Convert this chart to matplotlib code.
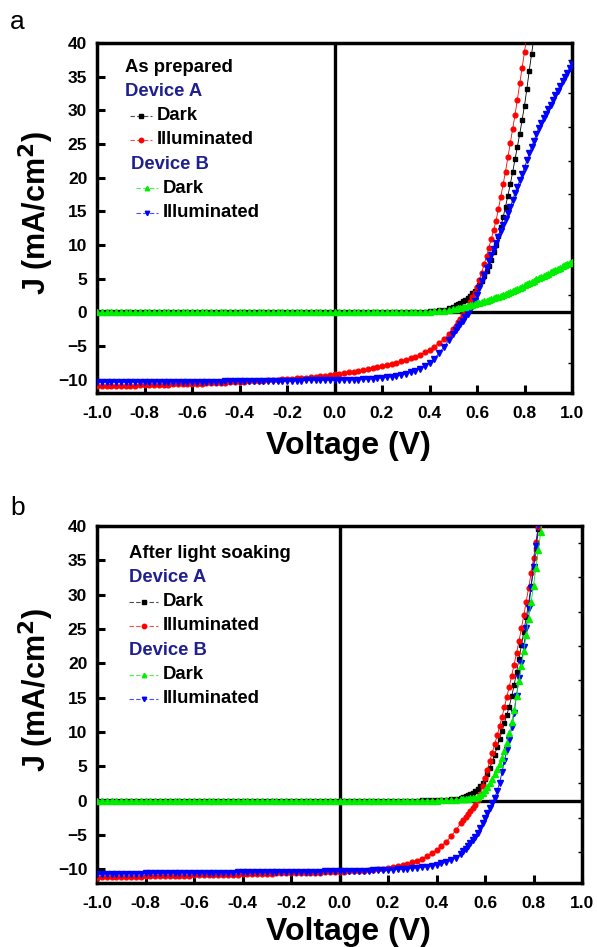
import numpy as np
import matplotlib
matplotlib.use("Agg")
import matplotlib.pyplot as plt
from matplotlib.lines import Line2D

plt.rcParams['font.family'] = ['Liberation Sans', 'DejaVu Sans']
plt.rcParams['font.weight'] = 'bold'

nan = np.nan

# voltage sweep (V): 0.02 V steps up to 0.5 V, then 0.01 V steps
volt = [-1.00, -0.98, -0.96, -0.94, -0.92, -0.90, -0.88, -0.86, -0.84, -0.82,
        -0.80, -0.78, -0.76, -0.74, -0.72, -0.70, -0.68, -0.66, -0.64, -0.62,
        -0.60, -0.58, -0.56, -0.54, -0.52, -0.50, -0.48, -0.46, -0.44, -0.42,
        -0.40, -0.38, -0.36, -0.34, -0.32, -0.30, -0.28, -0.26, -0.24, -0.22,
        -0.20, -0.18, -0.16, -0.14, -0.12, -0.10, -0.08, -0.06, -0.04, -0.02,
        0.00, 0.02, 0.04, 0.06, 0.08, 0.10, 0.12, 0.14, 0.16, 0.18,
        0.20, 0.22, 0.24, 0.26, 0.28, 0.30, 0.32, 0.34, 0.36, 0.38,
        0.40, 0.42, 0.44, 0.46, 0.48, 0.50,
        0.51, 0.52, 0.53, 0.54, 0.55, 0.56, 0.57, 0.58, 0.59, 0.60,
        0.61, 0.62, 0.63, 0.64, 0.65, 0.66, 0.67, 0.68, 0.69, 0.70,
        0.71, 0.72, 0.73, 0.74, 0.75, 0.76, 0.77, 0.78, 0.79, 0.80,
        0.81, 0.82, 0.83, 0.84, 0.85, 0.86, 0.87, 0.88, 0.89, 0.90,
        0.91, 0.92, 0.93, 0.94, 0.95, 0.96, 0.97, 0.98, 0.99, 1.00]

zeros66 = [0.0] * 66  # dark current is flat at 0 from -1.0 V to 0.30 V

# (a) as prepared, J in mA/cm2
a_dark_A = zeros66 + [
    0.02, 0.03, 0.05, 0.08, 0.12, 0.18, 0.27, 0.40, 0.60, 0.85,
    1.0, 1.15, 1.35, 1.6, 1.85, 2.1, 2.45, 2.8, 3.2, 3.6,
    4.1, 4.7, 5.4, 6.1, 6.9, 7.8, 8.9, 10.0, 11.3, 12.6,
    14.1, 15.7, 17.3, 19.0, 20.8, 22.7, 24.6, 26.5, 28.6, 30.7,
    33.2, 35.9, 38.4, 40.9, nan, nan, nan, nan, nan, nan,
    nan, nan, nan, nan, nan, nan, nan, nan, nan, nan]
a_illum_A = [
    -11.0, -11.0, -11.0, -10.98, -10.96, -10.95, -10.93, -10.91, -10.89, -10.87,
    -10.85, -10.83, -10.81, -10.79, -10.77, -10.75, -10.73, -10.71, -10.69, -10.67,
    -10.65, -10.63, -10.61, -10.58, -10.55, -10.52, -10.49, -10.46, -10.43, -10.39,
    -10.35, -10.31, -10.27, -10.23, -10.19, -10.15, -10.11, -10.07, -10.03, -9.99,
    -9.95, -9.89, -9.83, -9.77, -9.71, -9.65, -9.57, -9.49, -9.41, -9.33,
    -9.25, -9.15, -9.05, -8.95, -8.83, -8.7, -8.58, -8.46, -8.34, -8.17,
    -8.0, -7.84, -7.68, -7.5, -7.3, -7.1, -6.85, -6.6, -6.3, -5.95,
    -5.55, -5.1, -4.6, -4.0, -3.3, -2.5,
    -2.0, -1.5, -0.95, -0.4, 0.2, 0.8, 1.5, 2.2, 2.9, 3.7,
    4.8, 5.9, 7.1, 8.3, 9.6, 10.9, 12.2, 13.6, 15.3, 17.1,
    19.0, 20.9, 23.0, 25.1, 27.2, 29.3, 31.6, 34.0, 36.3, 38.7,
    41.1, nan, nan, nan, nan, nan, nan, nan, nan, nan,
    nan, nan, nan, nan, nan, nan, nan, nan, nan, nan]
a_dark_B = zeros66 + [
    0.01, 0.02, 0.03, 0.05, 0.08, 0.12, 0.17, 0.24, 0.33, 0.45,
    0.51, 0.58, 0.66, 0.75, 0.83, 0.92, 1.01, 1.10, 1.20, 1.30,
    1.40, 1.50, 1.61, 1.72, 1.83, 1.95, 2.07, 2.20, 2.32, 2.45,
    2.60, 2.75, 2.90, 3.05, 3.20, 3.35, 3.50, 3.65, 3.82, 4.00,
    4.17, 4.35, 4.52, 4.70, 4.87, 5.05, 5.22, 5.40, 5.57, 5.75,
    5.92, 6.10, 6.27, 6.45, 6.62, 6.80, 6.97, 7.15, 7.30, 7.45]
a_illum_B = [
    -10.42, -10.42, -10.41, -10.41, -10.4, -10.4, -10.4, -10.39, -10.39, -10.38,
    -10.38, -10.37, -10.37, -10.36, -10.36, -10.35, -10.35, -10.34, -10.34, -10.33,
    -10.33, -10.32, -10.32, -10.31, -10.31, -10.3, -10.3, -10.29, -10.29, -10.28,
    -10.28, -10.27, -10.26, -10.25, -10.24, -10.23, -10.22, -10.21, -10.2, -10.19,
    -10.18, -10.17, -10.16, -10.15, -10.14, -10.13, -10.12, -10.11, -10.1, -10.1,
    -10.1, -10.08, -10.06, -10.04, -10.02, -10.0, -9.97, -9.93, -9.88, -9.82,
    -9.75, -9.67, -9.58, -9.45, -9.3, -9.15, -8.95, -8.7, -8.4, -8.0,
    -7.5, -6.9, -6.1, -5.2, -4.2, -3.2,
    -2.7, -2.2, -1.75, -1.3, -0.75, -0.2, 0.35, 0.9, 1.7, 2.6,
    3.6, 4.6, 5.6, 6.6, 7.55, 8.5, 9.4, 10.3, 11.15, 12.0,
    12.9, 13.8, 14.7, 15.6, 16.65, 17.7, 18.65, 19.6, 20.55, 21.5,
    22.55, 23.6, 24.55, 25.5, 26.45, 27.4, 28.1, 28.8, 29.5, 30.2,
    30.85, 31.5, 32.2, 32.9, 33.65, 34.4, 35.0, 35.6, 36.25, 36.9]

# (b) after light soaking
b_dark_A = zeros66 + [
    0.01, 0.02, 0.03, 0.04, 0.06, 0.09, 0.13, 0.19, 0.28, 0.42,
    0.52, 0.62, 0.75, 0.90, 1.12, 1.40, 1.72, 2.10, 2.55, 3.10,
    3.90, 4.80, 5.70, 6.70, 7.80, 9.00, 10.1, 11.3, 12.5, 13.7,
    15.2, 16.8, 18.7, 20.6, 22.6, 24.6, 26.7, 28.8, 31.3, 34.0,
    36.7, 39.5, 42.3, nan, nan, nan, nan, nan, nan, nan,
    nan, nan, nan, nan, nan, nan, nan, nan, nan, nan]
b_illum_A = [
    -11.2, -11.18, -11.16, -11.14, -11.12, -11.1, -11.1, -11.1, -11.08, -11.06,
    -11.05, -11.03, -11.01, -11.0, -11.0, -11.0, -10.98, -10.96, -10.94, -10.92,
    -10.9, -10.9, -10.9, -10.88, -10.86, -10.85, -10.83, -10.81, -10.79, -10.77,
    -10.75, -10.73, -10.71, -10.69, -10.67, -10.65, -10.63, -10.61, -10.59, -10.57,
    -10.55, -10.53, -10.51, -10.5, -10.5, -10.5, -10.48, -10.46, -10.44, -10.42,
    -10.4, -10.36, -10.32, -10.28, -10.24, -10.2, -10.13, -10.06, -9.98, -9.89,
    -9.8, -9.69, -9.57, -9.42, -9.22, -9.0, -8.75, -8.45, -8.1, -7.7,
    -7.2, -6.6, -6.0, -5.2, -4.3, -3.3,
    -2.85, -2.4, -1.95, -1.5, -1.05, -0.6, 0.1, 1.0, 2.1, 3.3,
    4.5, 5.8, 7.0, 8.2, 9.5, 10.8, 12.2, 13.6, 15.1, 16.6,
    18.2, 19.8, 21.5, 23.2, 25.1, 27.0, 29.0, 31.0, 33.1, 35.3,
    37.6, 39.9, 42.2, nan, nan, nan, nan, nan, nan, nan,
    nan, nan, nan, nan, nan, nan, nan, nan, nan, nan]
b_dark_B = zeros66 + [
    0.0, 0.0, 0.01, 0.01, 0.01, 0.02, 0.04, 0.07, 0.11, 0.17,
    0.19, 0.22, 0.27, 0.32, 0.38, 0.45, 0.58, 0.75, 1.05, 1.5,
    2.0, 2.6, 3.2, 3.9, 4.6, 5.3, 6.2, 7.2, 8.4, 9.8,
    11.4, 13.2, 15.3, 17.4, 19.6, 21.8, 24.1, 26.5, 28.9, 31.3,
    33.9, 36.5, 39.1, 41.8, nan, nan, nan, nan, nan, nan,
    nan, nan, nan, nan, nan, nan, nan, nan, nan, nan]
b_illum_B = [
    -10.7, -10.7, -10.7, -10.69, -10.67, -10.66, -10.65, -10.65, -10.64, -10.62,
    -10.61, -10.6, -10.6, -10.6, -10.6, -10.59, -10.58, -10.57, -10.56, -10.55,
    -10.55, -10.54, -10.52, -10.51, -10.5, -10.5, -10.5, -10.5, -10.49, -10.47,
    -10.46, -10.45, -10.45, -10.44, -10.42, -10.41, -10.4, -10.4, -10.4, -10.4,
    -10.39, -10.37, -10.36, -10.35, -10.35, -10.34, -10.33, -10.31, -10.3, -10.3,
    -10.3, -10.28, -10.26, -10.24, -10.22, -10.2, -10.18, -10.16, -10.14, -10.12,
    -10.1, -10.07, -10.03, -9.98, -9.92, -9.85, -9.8, -9.7, -9.6, -9.5,
    -9.35, -9.15, -9.0, -8.7, -8.3, -7.8,
    -7.4, -7.0, -6.6, -6.2, -5.75, -5.3, -4.7, -4.0, -3.3, -2.5,
    -1.8, -1.1, -0.4, 0.4, 1.4, 2.6, 4.1, 5.8, 7.3, 8.8,
    10.7, 12.8, 15.3, 17.8, 20.1, 22.4, 25.2, 28.0, 31.0, 34.0,
    37.1, 40.2, 43.3, nan, nan, nan, nan, nan, nan, nan,
    nan, nan, nan, nan, nan, nan, nan, nan, nan, nan]

xticks = [-1.0, -0.8, -0.6, -0.4, -0.2, 0.0, 0.2, 0.4, 0.6, 0.8, 1.0]
yticks = [-10, -5, 0, 5, 10, 15, 20, 25, 30, 35, 40]

navy = '#1f1f8f'
# black squares, red circles, blue down-triangles, green up-triangles
styles = [('black', 's', 3.0), ('red', 'o', 3.4), ('blue', 'v', 3.8), ('#00ee00', '^', 3.8)]

W, H = 597, 947
fig = plt.figure(figsize=(W / 100, H / 100), dpi=100)

def px(x, y):
    return x / W, 1 - y / H

def panel(rect, series, letter, title, leg):
    ax = fig.add_axes(rect)
    ax.axhline(0, color='black', lw=2.4, zorder=1)
    ax.axvline(0, color='black', lw=2.4, zorder=1)
    for ys, (c, m, ms) in zip(series, styles):
        ax.plot(volt, ys, color=c, lw=0.6, marker=m, ms=ms, mec=c, mfc=c, zorder=3)
    ax.set_xlim(-1.0, 1.0)
    ax.set_ylim(-12, 40)
    ax.set_xticks(xticks)
    ax.set_xticklabels(['%.1f' % v for v in xticks])
    ax.set_yticks(yticks)
    ax.tick_params(axis='both', direction='in', length=6, width=2.2,
                   labelsize=12.5, pad=7)
    ax.tick_params(axis='x', pad=9)
    ax.set_yticks(np.arange(-10, 41, 2.5), minor=True)
    ax.tick_params(axis='y', which='minor', left=False, right=True,
                   direction='in', length=3, width=1)
    for s in ax.spines.values():
        s.set_linewidth(2.5)
    for t in ax.get_xticklabels() + ax.get_yticklabels():
        t.set_fontweight('bold')

    # hand made legend
    x0, y0 = leg
    fig.text(*px(10, y0 - 45), letter, fontsize=19, fontweight='normal',
             va='center', ha='left')
    fig.text(*px(x0, y0), title, fontsize=13.3, fontweight='bold', va='center')
    rows = [('Device A', None), ('Dark', 0), ('Illuminated', 1),
            ('Device B', None), ('Dark', 3), ('Illuminated', 2)]
    for i, (txt, k) in enumerate(rows):
        yy = y0 + 24.3 * (i + 1)
        if k is None:
            dx = 6 if (txt == 'Device B' and letter == 'a') else 0
            fig.text(*px(x0 + dx, yy), txt, fontsize=13.3, fontweight='bold',
                     color=navy, va='center')
        else:
            sc, sm, sms = styles[k]
            dx = 6 if (k >= 2 and letter == 'a') else 0
            lx = [x0 + 5 + dx, x0 + 27 + dx] if letter == 'a' else [x0, x0 + 29]
            xs = [px(v, yy)[0] for v in lx]
            fig.add_artist(Line2D(xs, [px(0, yy)[1]] * 2, color=sc, lw=0.8,
                                  ls=(0, (4, 2)), alpha=0.7))
            fig.add_artist(Line2D([sum(xs) / 2], [px(0, yy)[1]], color=sc,
                                  marker=sm, ms=3.2, lw=0))
            fig.text(*px(lx[1] + 5, yy), txt, fontsize=13.3, fontweight='bold',
                     va='center')
    return ax

ax1 = panel([97 / W, 1 - 393 / H, 475 / W, 350 / H],
            [a_dark_A, a_illum_A, a_illum_B, a_dark_B], 'a', 'As prepared', (125, 67))
ax2 = panel([97 / W, 1 - 883 / H, 485 / W, 357 / H],
            [b_dark_A, b_illum_A, b_illum_B, b_dark_B], 'b', 'After light soaking', (129, 553))

fig.text(*px(348, 446), 'Voltage (V)', fontsize=23, fontweight='bold', ha='center', va='center')
fig.text(*px(348, 932), 'Voltage (V)', fontsize=23, fontweight='bold', ha='center', va='center')
fig.text(*px(36, 213), 'J (mA/cm$^\\mathbf{2}$)', fontsize=22, fontweight='bold',
         rotation=90, ha='center', va='center')
fig.text(*px(36, 690), 'J (mA/cm$^\\mathbf{2}$)', fontsize=22, fontweight='bold',
         rotation=90, ha='center', va='center')

fig.savefig('out.png', dpi=100)
